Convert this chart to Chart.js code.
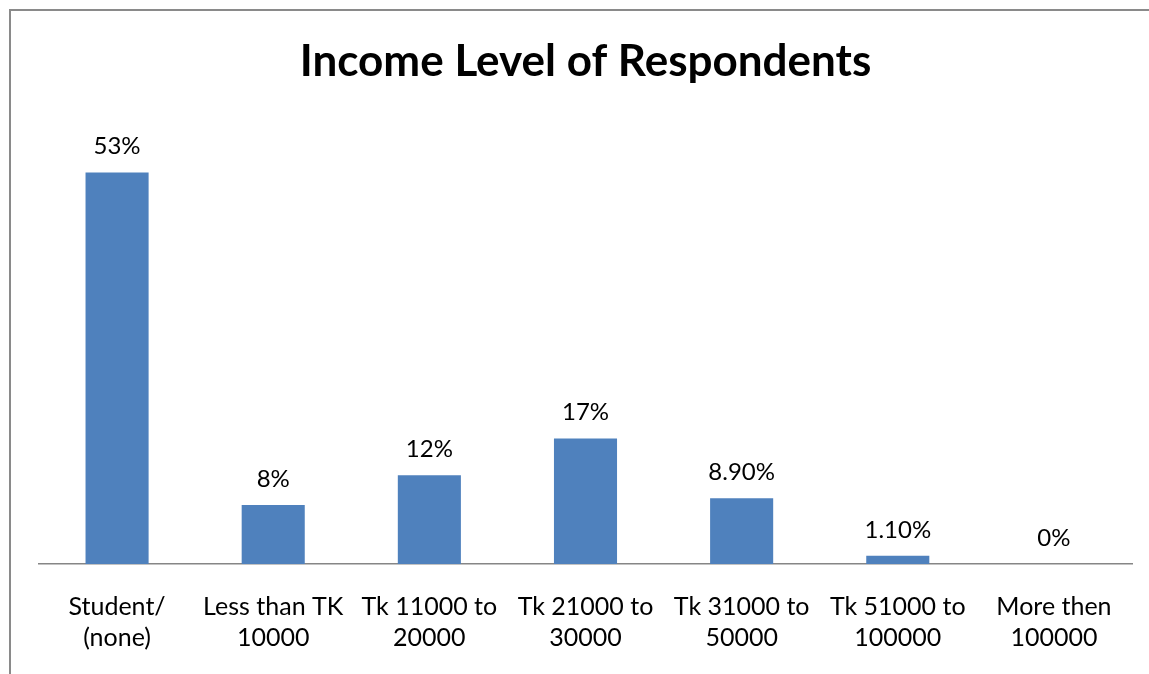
<!DOCTYPE html>
<html>
<head>
<meta charset="utf-8">
<script src="https://cdn.jsdelivr.net/npm/chart.js@4/dist/chart.umd.min.js"></script>
<style>
  html, body { margin: 0; padding: 0; background: #fff; }
  #frame {
    position: absolute; left: 9px; top: 9px; right: -10px; bottom: -10px;
    border-left: 2px solid #8a8a8a; border-top: 2px solid #8a8a8a;
  }
  #wrap { position: absolute; left: 0; top: 0; width: 1149px; height: 674px; }
</style>
</head>
<body>
<div id="frame"></div>
<div id="wrap"><canvas id="incomeChart"></canvas></div>
<script>
// ─── DONNÉES ─────────────────────────────────────────────────────────────
const categories = [
    ['Student/', '(none)'],
    ['Less than TK', '10000'],
    ['Tk 11000 to', '20000'],
    ['Tk 21000 to', '30000'],
    ['Tk 31000 to', '50000'],
    ['Tk 51000 to', '100000'],
    ['More then', '100000']
];
const shares = [53, 8, 12, 17, 8.9, 1.1, 0];
const shareLabels = ['53%', '8%', '12%', '17%', '8.90%', '1.10%', '0%'];

const FONT = "Lato, 'Open Sans', sans-serif";

// étiquettes au-dessus des barres
const valueLabels = {
    id: 'valueLabels',
    afterDatasetsDraw(chart) {
        const { ctx } = chart;
        const meta = chart.getDatasetMeta(0);
        ctx.save();
        ctx.font = `24px ${FONT}`;
        ctx.fillStyle = '#000';
        ctx.textAlign = 'center';
        ctx.textBaseline = 'middle';
        meta.data.forEach((bar, i) => {
            ctx.fillText(shareLabels[i], bar.x, bar.y - 26);
        });
        ctx.restore();
    }
};

const ctx = document.getElementById('incomeChart').getContext('2d');
new Chart(ctx, {
    type: 'bar',
    data: {
        labels: categories,
        datasets: [{
            data: shares,
            backgroundColor: '#4f81bd',
            borderWidth: 0,
            categoryPercentage: 1,
            barPercentage: 0.404
        }]
    },
    options: {
        responsive: true,
        maintainAspectRatio: false,
        animation: false,
        layout: { padding: { left: 39, right: 17, top: 10, bottom: 2 } },
        scales: {
            x: {
                grid: { display: false },
                border: { display: true, color: '#868686', width: 1.5 },
                ticks: {
                    color: '#000',
                    font: { family: FONT, size: 25, lineHeight: 1.24 },
                    padding: 19,
                    maxRotation: 0,
                    autoSkip: false
                }
            },
            y: {
                display: false,
                min: 0,
                max: 60
            }
        },
        plugins: {
            legend: { display: false },
            tooltip: { enabled: false },
            title: {
                display: true,
                text: 'Income Level of Respondents',
                color: '#000',
                font: { family: FONT, size: 44, weight: 'bold' },
                padding: { top: 25, bottom: 33 }
            }
        }
    },
    plugins: [valueLabels]
});
</script>
</body>
</html>
